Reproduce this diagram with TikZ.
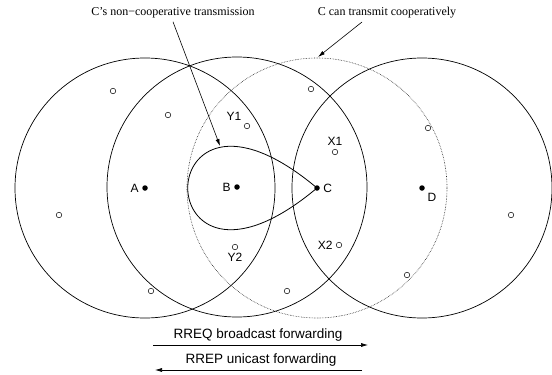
\documentclass[tikz,border=0pt]{standalone}
\usepackage{fontspec}
\setmainfont{Liberation Serif}
\setsansfont{Liberation Sans}
\usetikzlibrary{arrows.meta, positioning}

\tikzset{
  txrange/.style={line width=0.7pt},
  coop txrange/.style={line width=0.6pt, densely dotted, black!85},
  station/.style={circle, fill=black, inner sep=0pt, minimum size=5.5pt},
  relay/.style={circle, draw, line width=0.5pt, fill=white, inner sep=0pt, minimum size=5.5pt},
  tag/.style={font=\sffamily\fontsize{12}{14}\selectfont},
  flow/.style={font=\sffamily\fontsize{13.5}{15}\selectfont},
  caption/.style={font=\fontsize{12}{14}\selectfont},
  pointer/.style={-{Latex[length=7pt,width=4pt]}, line width=0.6pt},
}

\begin{document}
\begin{tikzpicture}[x=1pt, y=-1pt]
\useasboundingbox (0,0) rectangle (552,375);

\node[station, label={[tag]left:A}] (A) at (145,188) {};
\node[station, label={[tag]left:B}] (B) at (237,187) {};
\node[station, label={[tag]right:C}] (C) at (317,188) {};
\node[station, label={[tag]below right:D}] (D) at (422,188) {};

\foreach \n in {A,B,D}
  \draw[txrange] (\n.center) circle [radius=130pt];
\draw[coop txrange] (C.center) circle [radius=130pt];

% teardrop shaped range of C
\draw[line width=0.8pt] (C.center) .. controls +(140:225) and +(220:225) .. (C.center);

\foreach \p in {(113,91), (168,115), (59,215), (151,291), (287,291),
                (311,89), (428,128), (511,215), (407,275)}
  \node[relay] at \p {};
\node[relay, label={[tag]above left:Y1}] (Y1) at (247,126) {};
\node[relay, label={[tag]below:Y2}] (Y2) at (235,247) {};
\node[relay, label={[tag]above:X1}] (X1) at (335,152) {};
\node[relay, label={[tag]left:X2}] (X2) at (339,245) {};

\node[caption] (ncoop) at (173,13) {C’s non−cooperative transmission};
\node[caption] (coop) at (387,13) {C can transmit cooperatively};
\coordinate (droptop) at (220,146);
\coordinate (cooptop) at (318,57);
\draw[pointer] (ncoop.south) -- (droptop);
\draw[pointer] ([xshift=-25pt]coop.south) -- (cooptop);

\node[flow] (rreq) at (258,335) {RREQ broadcast forwarding};
\node[flow] (rrep) at (261,360) {RREP unicast forwarding};
\coordinate (reqL) at (153,345);
\coordinate (reqR) at (368,345);
\coordinate (repL) at (155,370);
\coordinate (repR) at (362,370);
\draw[pointer] (reqL) -- (reqR);
\draw[pointer] (repR) -- (repL);
\end{tikzpicture}
\end{document}
